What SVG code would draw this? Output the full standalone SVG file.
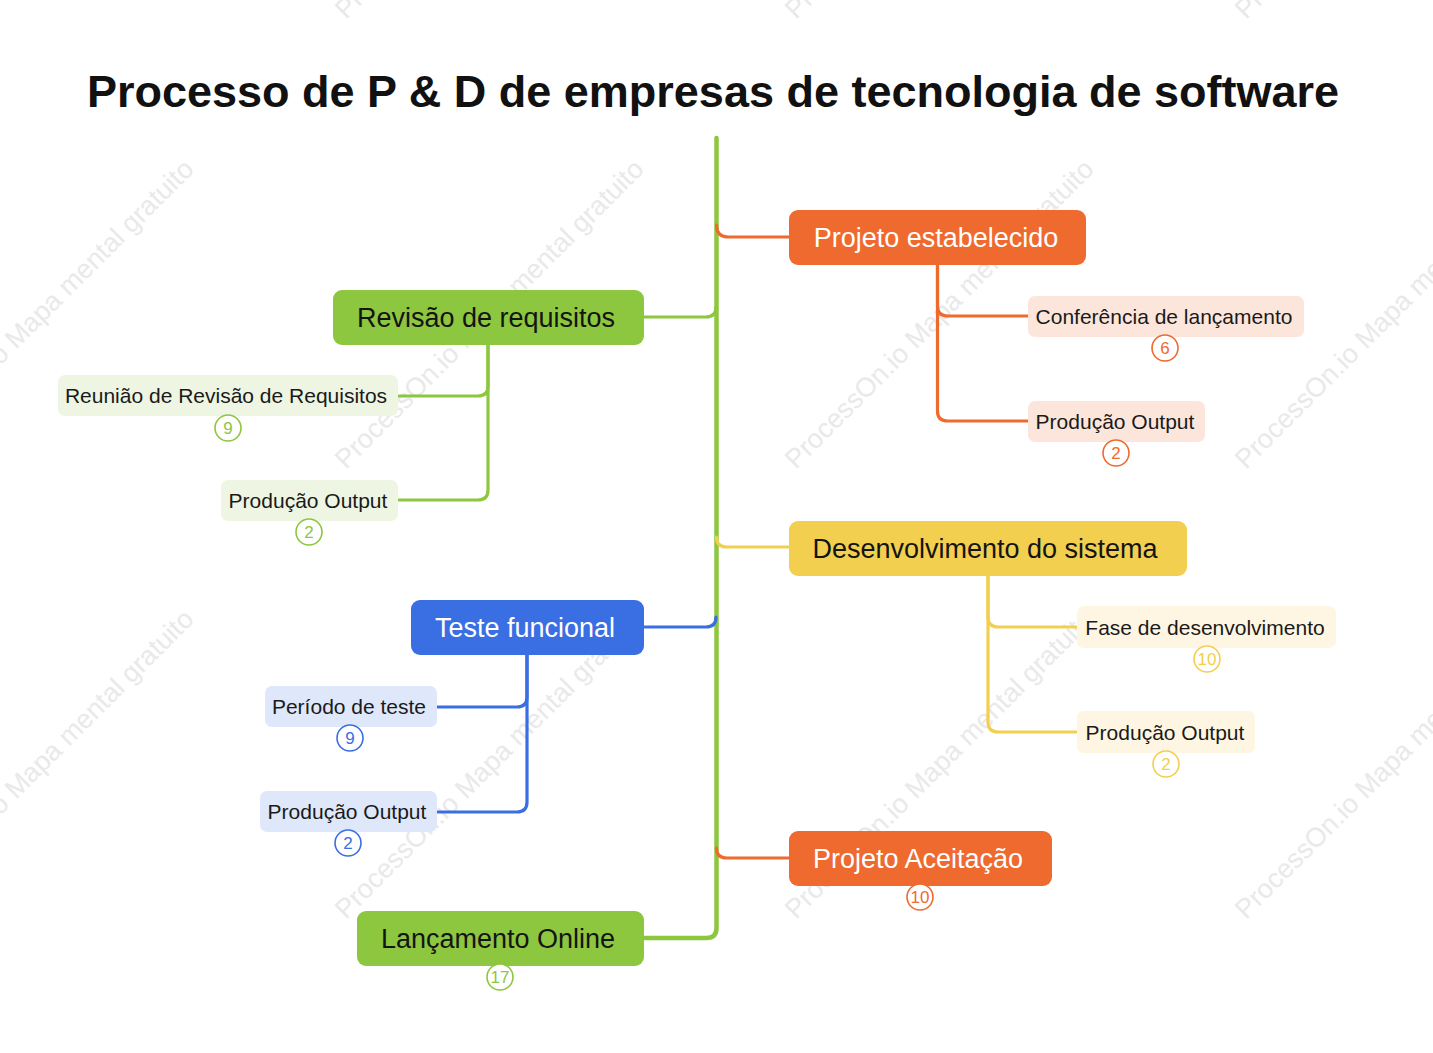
<svg xmlns="http://www.w3.org/2000/svg" width="1433" height="1053" viewBox="0 0 1433 1053">
<style>
text{font-family:"Liberation Sans",Arial,sans-serif}
.title{font-size:45px;font-weight:bold;fill:#111}
.main{font-size:27px;text-anchor:middle}
.sub{font-size:21px;text-anchor:middle;fill:#1a1a1a}
.w{fill:#fff}.d{fill:#141414}
.badge circle{fill:#fff;stroke-width:1.6}
.badge text{font-size:17px;text-anchor:middle}
.og{stroke:#EE6A2F}.ogt{fill:#EE6A2F}
.gr{stroke:#8DC63F}.grt{fill:#8DC63F}
.bl{stroke:#3A6EE3}.blt{fill:#3A6EE3}
.yl{stroke:#F2CF4E}.ylt{fill:#F2CF4E}
.conn path{fill:none;stroke-width:3.2;stroke-linecap:round}
.wm{font-size:27px;fill:#e9e9e9}
</style>
<rect width="1433" height="1053" fill="#fff"/>

<g id="watermarks" class="wm">
<text transform="translate(-104 20) rotate(-45)">ProcessOn.io Mapa mental gratuito</text>
<text transform="translate(346 20) rotate(-45)">ProcessOn.io Mapa mental gratuito</text>
<text transform="translate(796 20) rotate(-45)">ProcessOn.io Mapa mental gratuito</text>
<text transform="translate(1246 20) rotate(-45)">ProcessOn.io Mapa mental gratuito</text>
<text transform="translate(-104 470) rotate(-45)">ProcessOn.io Mapa mental gratuito</text>
<text transform="translate(346 470) rotate(-45)">ProcessOn.io Mapa mental gratuito</text>
<text transform="translate(796 470) rotate(-45)">ProcessOn.io Mapa mental gratuito</text>
<text transform="translate(1246 470) rotate(-45)">ProcessOn.io Mapa mental gratuito</text>
<text transform="translate(-104 920) rotate(-45)">ProcessOn.io Mapa mental gratuito</text>
<text transform="translate(346 920) rotate(-45)">ProcessOn.io Mapa mental gratuito</text>
<text transform="translate(796 920) rotate(-45)">ProcessOn.io Mapa mental gratuito</text>
<text transform="translate(1246 920) rotate(-45)">ProcessOn.io Mapa mental gratuito</text>
</g>

<text class="title" x="713" y="107" text-anchor="middle">Processo de P &amp; D de empresas de tecnologia de software</text>

<g id="connectors" class="conn">
<path class="gr" d="M716.5 138 V928 Q716.5 938 706.5 938 H644" style="stroke-width:4.5"/>
<path class="og" d="M716.5 225 Q716.5 237 728.5 237 H789"/>
<path class="yl" d="M716.5 537 Q716.5 547 726.5 547 H789"/>
<path class="og" d="M716.5 848 Q716.5 858 726.5 858 H789"/>
<path class="gr" d="M644 317 H706 Q716 317 716 307"/>
<path class="bl" d="M644 627 H706 Q716 627 716 617"/>
<path class="og" d="M937.5 265 V306 Q937.5 316 947.5 316 H1028"/>
<path class="og" d="M937.5 265 V411 Q937.5 421 947.5 421 H1028"/>
<path class="yl" d="M988 576 V617 Q988 627 998 627 H1077"/>
<path class="yl" d="M988 576 V722 Q988 732 998 732 H1077"/>
<path class="gr" d="M488 345 V386 Q488 396 478 396 H398"/>
<path class="gr" d="M488 345 V490 Q488 500 478 500 H398"/>
<path class="bl" d="M527 655 V697 Q527 707 517 707 H437"/>
<path class="bl" d="M527 655 V802 Q527 812 517 812 H437"/>
</g>

<g id="n-projeto-estabelecido">
<rect x="789" y="210" width="297" height="55" rx="9" class="ogt"/>
<text class="main w" x="936" y="246.5">Projeto estabelecido</text>
</g>
<g id="n-conferencia">
<rect x="1028" y="296" width="276" height="41" rx="7" fill="#FCE6DB"/>
<text class="sub" x="1164" y="324">Conferência de lançamento</text>
<g class="badge"><circle class="og" cx="1165" cy="348" r="13"/><text class="ogt" x="1165" y="354">6</text></g>
</g>
<g id="n-producao-1">
<rect x="1028" y="401" width="177" height="41" rx="7" fill="#FCE6DB"/>
<text class="sub" x="1115" y="429">Produção Output</text>
<g class="badge"><circle class="og" cx="1116" cy="453" r="13"/><text class="ogt" x="1116" y="459">2</text></g>
</g>

<g id="n-desenvolvimento">
<rect x="789" y="521" width="398" height="55" rx="9" class="ylt"/>
<text class="main d" x="985" y="557.5">Desenvolvimento do sistema</text>
</g>
<g id="n-fase">
<rect x="1077" y="606" width="259" height="42" rx="7" fill="#FEF6E2"/>
<text class="sub" x="1205" y="634.5">Fase de desenvolvimento</text>
<g class="badge"><circle class="yl" cx="1207" cy="659" r="13"/><text class="ylt" x="1207" y="665">10</text></g>
</g>
<g id="n-producao-2">
<rect x="1077" y="711" width="178" height="42" rx="7" fill="#FEF6E2"/>
<text class="sub" x="1165" y="739.5">Produção Output</text>
<g class="badge"><circle class="yl" cx="1166" cy="764" r="13"/><text class="ylt" x="1166" y="770">2</text></g>
</g>

<g id="n-aceitacao">
<rect x="789" y="831" width="263" height="55" rx="9" class="ogt"/>
<text class="main w" x="918" y="867.5">Projeto Aceitação</text>
<g class="badge"><circle class="og" cx="920" cy="897" r="13"/><text class="ogt" x="920" y="903">10</text></g>
</g>

<g id="n-revisao">
<rect x="333" y="290" width="311" height="55" rx="9" class="grt"/>
<text class="main d" x="486" y="326.5">Revisão de requisitos</text>
</g>
<g id="n-reuniao">
<rect x="58" y="375" width="340" height="41" rx="7" fill="#EEF6E3"/>
<text class="sub" x="226" y="403">Reunião de Revisão de Requisitos</text>
<g class="badge"><circle class="gr" cx="228" cy="428" r="13"/><text class="grt" x="228" y="434">9</text></g>
</g>
<g id="n-producao-3">
<rect x="221" y="480" width="177" height="41" rx="7" fill="#EEF6E3"/>
<text class="sub" x="308" y="508">Produção Output</text>
<g class="badge"><circle class="gr" cx="309" cy="532" r="13"/><text class="grt" x="309" y="538">2</text></g>
</g>

<g id="n-teste">
<rect x="411" y="600" width="233" height="55" rx="9" class="blt"/>
<text class="main w" x="525" y="636.5">Teste funcional</text>
</g>
<g id="n-periodo">
<rect x="265" y="686" width="172" height="41" rx="7" fill="#DFE7FB"/>
<text class="sub" x="349" y="714">Período de teste</text>
<g class="badge"><circle class="bl" cx="350" cy="738" r="13"/><text class="blt" x="350" y="744">9</text></g>
</g>
<g id="n-producao-4">
<rect x="260" y="791" width="177" height="41" rx="7" fill="#DFE7FB"/>
<text class="sub" x="347" y="819">Produção Output</text>
<g class="badge"><circle class="bl" cx="348" cy="843" r="13"/><text class="blt" x="348" y="849">2</text></g>
</g>

<g id="n-lancamento">
<rect x="357" y="911" width="287" height="55" rx="9" class="grt"/>
<text class="main d" x="498" y="947.5">Lançamento Online</text>
<g class="badge"><circle class="gr" cx="500" cy="977" r="13"/><text class="grt" x="500" y="983">17</text></g>
</g>
</svg>
